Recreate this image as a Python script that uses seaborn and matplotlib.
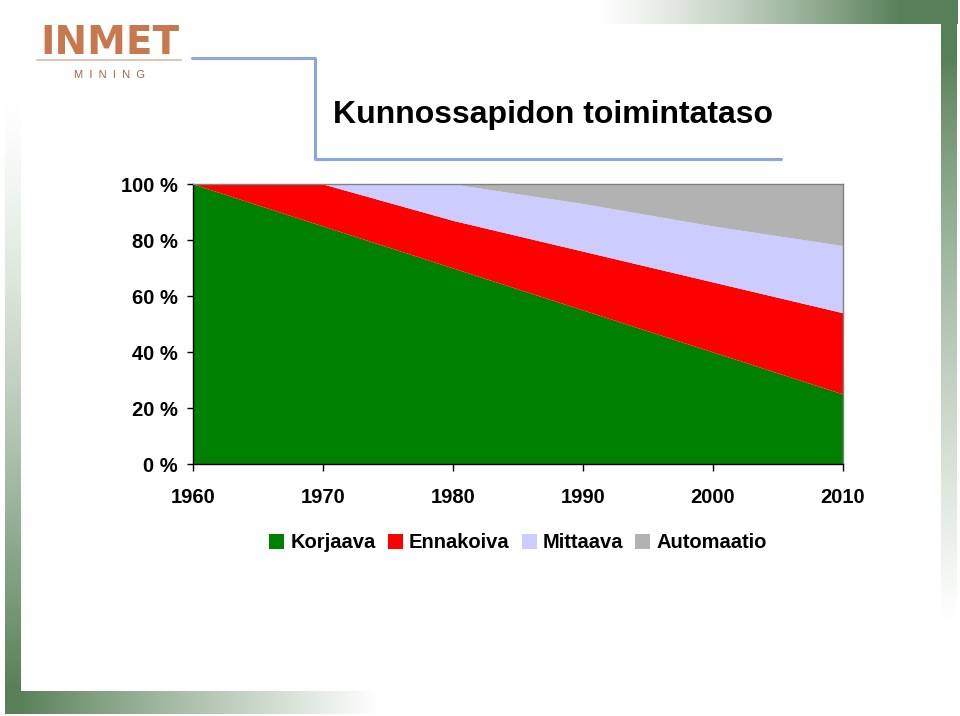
import numpy as np
import pandas as pd
import matplotlib
matplotlib.use("Agg")
import matplotlib.pyplot as plt
import seaborn as sns
from matplotlib.patches import Patch

# ---- data ----
years = [1960, 1970, 1980, 1990, 2000, 2010]
korjaava = [100, 85, 70, 55, 40, 25]
ennakoiva = [0, 15, 17, 21, 25, 29]
mittaava = [0, 0, 13, 17, 20, 24]
automaatio = [0, 0, 0, 7, 15, 22]
series_names = ["Korjaava", "Ennakoiva", "Mittaava", "Automaatio"]
series_colors = ["#008000", "#FF0000", "#CCCCFF", "#B2B2B2"]
y_ticks = [0, 20, 40, 60, 80, 100]
y_ticklabels = ["0 %", "20 %", "40 %", "60 %", "80 %", "100 %"]
title = "Kunnossapidon toimintataso"

df = pd.DataFrame({"Vuosi": years, "Korjaava": korjaava, "Ennakoiva": ennakoiva,
                   "Mittaava": mittaava, "Automaatio": automaatio})

sns.set_theme(style="white")
plt.rcParams["font.family"] = ["Liberation Sans", "DejaVu Sans"]
plt.rcParams["text.color"] = "black"
plt.rcParams["xtick.color"] = "black"
plt.rcParams["ytick.color"] = "black"

W, H = 960, 716
fig = plt.figure(figsize=(W / 100, H / 100), dpi=100)
fig.patch.set_facecolor("white")


def fx(x):
    return x / W


def fy(y):
    return 1 - y / H


# ---- decorative gradient frame ----
dark = np.array([88, 128, 88]) / 255.0
white = np.array([1.0, 1.0, 1.0])


def grad_axes(x0, y0, x1, y1, t):
    ax = fig.add_axes([fx(x0), fy(y1), fx(x1) - fx(x0), fy(y0) - fy(y1)])
    t = np.clip(np.asarray(t, float), 0, 1)
    img = white[None, None, :] * (1 - t[..., None]) + dark[None, None, :] * t[..., None]
    ax.imshow(img, aspect="auto", interpolation="bilinear")
    ax.set_axis_off()
    return ax


# top bar (fades in to the right)
xs = np.linspace(590, 958, 200)
t = ((xs - 590) / (900 - 590)) ** 1.3
grad_axes(590, 0, 958, 24, t[None, :])
# right bar (fades out downward)
ys = np.linspace(0, 640, 300)
t = 1 - np.clip((ys - 60) / (620 - 60), 0, 1) ** 0.8
grad_axes(941, 0, 957, 640, t[:, None])
# left bar (fades in downward)
ys = np.linspace(90, 714, 300)
t = np.clip((ys - 90) / (690 - 90), 0, 1) ** 1.4
grad_axes(5, 90, 21, 714, t[:, None])
# bottom bar (fades out to the right)
xs = np.linspace(5, 390, 200)
t = 1 - np.clip((xs - 20) / (380 - 20), 0, 1) ** 0.9
grad_axes(5, 691, 390, 714, t[None, :])

# ---- logo ----
fig.text(fx(110), fy(43), "INMET", color="#C8784E", fontsize=28, fontweight="bold",
         family="DejaVu Sans", ha="center", va="center")
fig.add_artist(plt.Line2D([fx(37), fx(181)], [fy(60), fy(60)], color="#DCC8B8", lw=1.5))
fig.text(fx(110), fy(75), "M  I  N  I  N  G", color="#A06848", fontsize=8,
         ha="center", va="center")

# ---- blue bracket ----
bc = "#8EA5E0"
fig.add_artist(plt.Line2D([fx(192), fx(315), fx(315), fx(781)],
                          [fy(58), fy(58), fy(159), fy(159)], color=bc, lw=2.2))

# ---- title ----
fig.text(fx(333), fy(123), title, fontsize=23, fontweight="bold",
         ha="left", va="baseline", color="black")

# ---- chart ----
ax = fig.add_axes([fx(193), fy(464), fx(843) - fx(193), fy(184) - fy(464)])
ax.set_facecolor("white")
ax.stackplot(df["Vuosi"], [df[n] for n in series_names], colors=series_colors,
             labels=series_names, linewidth=0)
ax.set_xlim(1960, 2010)
ax.set_ylim(0, 100)
ax.set_xticks(years)
ax.set_xticklabels([str(y) for y in years])
ax.set_yticks(y_ticks)
ax.set_yticklabels(y_ticklabels)
ax.tick_params(axis="x", direction="out", length=5, width=1, color="black",
               pad=12.5, labelsize=14.5, bottom=True, labelcolor="black")
ax.tick_params(axis="y", direction="out", length=4.5, width=1, color="black",
               pad=6.5, labelsize=14.5, left=True, labelcolor="black")
for lab in ax.get_xticklabels():
    lab.set_fontweight("bold")
for lab in ax.get_yticklabels():
    lab.set_fontweight("bold")
for s in ["left", "bottom"]:
    ax.spines[s].set_color("black")
    ax.spines[s].set_linewidth(1)
for s in ["top", "right"]:
    ax.spines[s].set_color("#808080")
    ax.spines[s].set_linewidth(1)
ax.grid(False)

handles = [Patch(facecolor=c, edgecolor="none", label=n) for n, c in zip(series_names, series_colors)]
leg = fig.legend(handles=handles, loc="center", bbox_to_anchor=(fx(518), fy(543)), ncol=4,
                 frameon=False, handlelength=0.75, handleheight=0.75, handletextpad=0.3,
                 columnspacing=0.6, prop={"size": 14.5, "weight": "bold"})
for txt in leg.get_texts():
    txt.set_color("black")

fig.savefig("out.png", dpi=100, facecolor="white")
